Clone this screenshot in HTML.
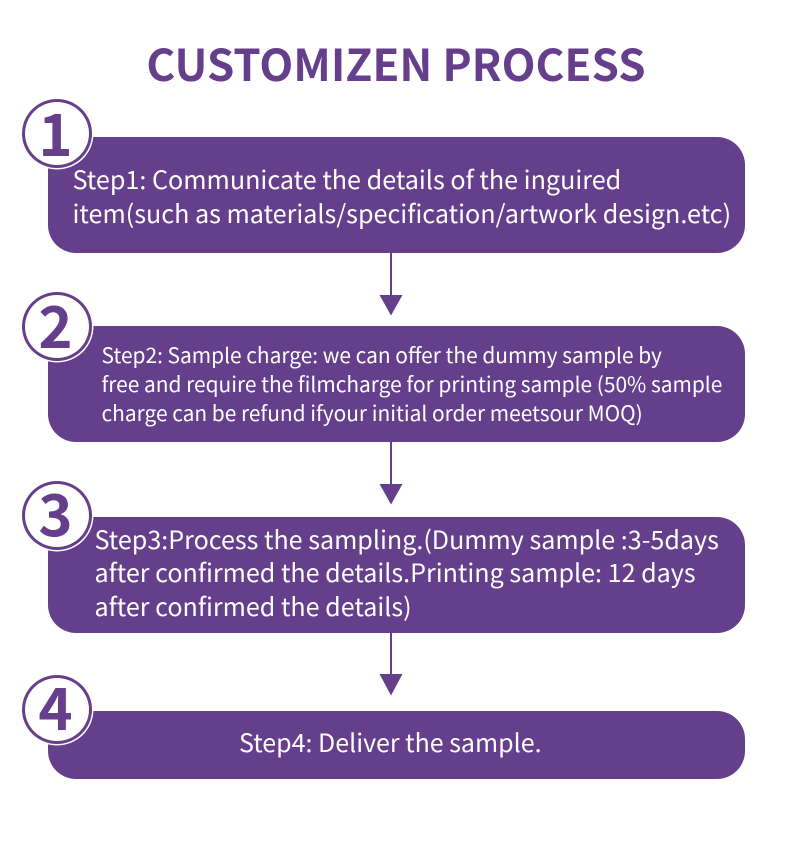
<!DOCTYPE html>
<html><head><meta charset="utf-8"><style>
html,body{margin:0;padding:0;background:#fff}
#p{position:relative;width:790px;height:852px;overflow:hidden;background:#fff;font-family:"Noto Sans CJK SC","Liberation Sans",sans-serif}
.b{position:absolute;left:48px;width:697px;background:#663f8c;border-radius:28px}
.t{position:absolute;color:#fff;white-space:nowrap;font-weight:400}
.c{position:absolute;left:21.500px;width:64px;height:63px;border:3px solid #663f8c;border-radius:50%;background:#fff;box-shadow:0 0 0 1.500px #fff}
.n{position:absolute;left:20px;width:71px;text-align:center;color:#663f8c;font-weight:700;font-size:58px;line-height:70px}
svg{position:absolute;left:0;top:0}
</style></head><body><div id="p">
<div style="position:absolute;left:0;top:28.500px;width:792px;text-align:center;color:#663f8c;font-weight:700;font-size:44px;line-height:66px;white-space:nowrap">CUSTOMIZEN PROCESS</div>
<svg width="790" height="852"><g fill="#663f8c" stroke="none">
<rect x="390" y="250" width="2" height="46"/><polygon points="379.500,295 402.500,295 391,315.500"/>
<rect x="390" y="440" width="2" height="45"/><polygon points="379.500,484 402.500,484 391,504.500"/>
<rect x="390" y="630" width="2" height="45"/><polygon points="379.500,674 402.500,674 391,695.500"/>
</g></svg>
<div class="b" style="top:137px;height:116px"></div>
<div class="b" style="top:326px;height:116px"></div>
<div class="b" style="top:517px;height:116px"></div>
<div class="b" style="top:711px;height:68px"></div>
<div class="c" style="top:99px"></div><div class="n" style="top:95.700px">1</div>
<div class="c" style="top:292px"></div><div class="n" style="top:287.700px">2</div>
<div class="c" style="top:481px"></div><div class="n" style="top:476.200px">3</div>
<div class="c" style="top:674.500px"></div><div class="n" style="top:669.700px">4</div>
<div class="t" style="left:72.500px;top:161.500px;font-size:25.150px;line-height:34px">Step1: Communicate the details of the inguired<br>item(such as materials/specification/artwork design.etc)</div>
<div class="t" style="left:101.500px;top:341px;font-size:20.900px;line-height:29px">Step2: Sample charge: we can offer the dummy sample by<br>free and require the filmcharge for printing sample (50% sample<br>charge can be refund ifyour initial order meetsour MOQ)</div>
<div class="t" style="left:94.500px;top:522.500px;font-size:25.100px;line-height:33.700px">Step3:Process the sampling.(Dummy sample :3-5days<br>after confirmed the details.Printing sample: 12 days<br>after confirmed the details)</div>
<div class="t" style="left:239px;top:725px;font-size:25px;line-height:34px">Step4: Deliver the sample.</div>
</div></body></html>
